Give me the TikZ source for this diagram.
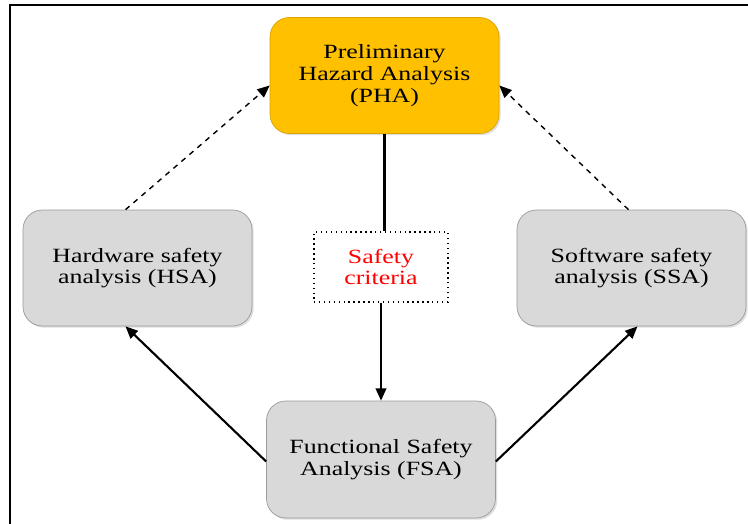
\documentclass[tikz,border=0pt]{standalone}
\usepackage{fontspec}
\setmainfont{Liberation Serif}[FakeStretch=1.28]
\usetikzlibrary{arrows.meta,calc,shadows}
\definecolor{phaorange}{HTML}{FFC000}
\definecolor{boxgray}{HTML}{D9D9D9}
\definecolor{edgegray}{HTML}{9A9A9A}

\begin{document}
\begin{tikzpicture}[x=0.02cm,y=-0.02cm,>={Triangle[length=7pt,width=6pt]},block/.style = {draw=edgegray, fill=boxgray, rounded corners=11pt, minimum width=4.58cm, minimum height=2.32cm, align=center, font=\fontsize{11.5}{12.4}\selectfont, drop shadow={opacity=0.25,shadow xshift=1pt,shadow yshift=-1pt}},]
\useasboundingbox (0,0) rectangle (748,524);
\draw[line width=1.4pt] (10,524)--(10,5)--(748,5);
\node (PHA) at (384.5,75.5)[block,fill=phaorange,draw=phaorange!85!black] {Preliminary\\Hazard Analysis\\(PHA)};
\node (HSA) at (137.5,268)[block] {Hardware safety\\analysis (HSA)};
\node (SSA) at (631.5,268)[block] {Software safety\\analysis (SSA)};
\node (FSA) at (381,459.5)[block,minimum height=2.34cm] {Functional Safety\\Analysis (FSA)};
\node (crit) at (381,267)[draw,dotted,thick,minimum width=2.68cm,minimum height=1.4cm,align=center,text=red,font=\fontsize{11.5}{12.4}\selectfont] {Safety\\criteria};
\draw[->,dashed,thick] ([xshift=-0.24cm]HSA.north)--([yshift=-0.2cm]PHA.west);
\draw[->,dashed,thick] ([xshift=-0.06cm]SSA.north)--([yshift=-0.2cm]PHA.east);
\draw[line width=1.3pt] (PHA.south)--(PHA.south |- crit.north);
\draw[->,line width=1.2pt] (crit.south)--(FSA.north);
\draw[->,line width=1.2pt] ([yshift=-0.04cm]FSA.west)--([xshift=-0.24cm]HSA.south);
\draw[->,line width=1.2pt] ([yshift=-0.04cm]FSA.east)--([xshift=0.12cm]SSA.south);
\end{tikzpicture}
\end{document}
